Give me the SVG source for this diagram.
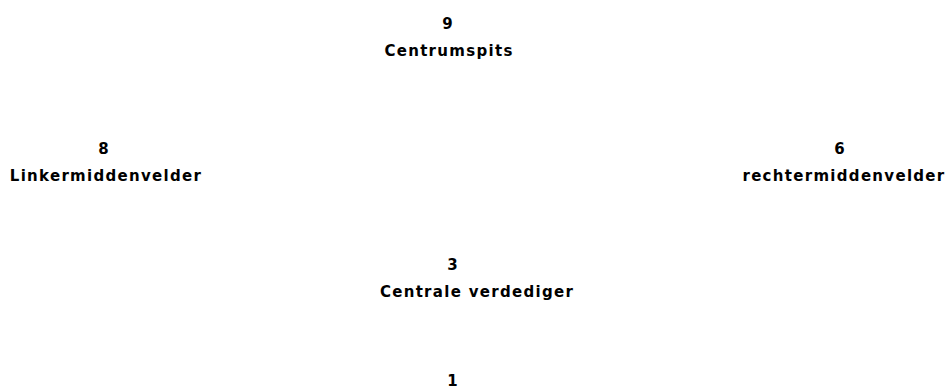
<svg xmlns="http://www.w3.org/2000/svg" width="950" height="390" viewBox="0 0 950 390">
<style>
text{font-family:"Comic Sans MS","DejaVu Sans",sans-serif;font-weight:bold;font-size:15px;fill:#000;text-anchor:middle;letter-spacing:1.3px}
</style>
<rect width="950" height="390" fill="#fff"/>
<g id="connectors"/>
<g id="node-9"><text x="448" y="29">9</text><text x="449" y="56">Centrumspits</text></g>
<g id="node-8"><text x="104" y="154">8</text><text x="106" y="181">Linkermiddenvelder</text></g>
<g id="node-6"><text x="840" y="154">6</text><text x="844" y="181">rechtermiddenvelder</text></g>
<g id="node-3"><text x="453" y="270">3</text><text x="477" y="297">Centrale verdediger</text></g>
<g id="node-1"><text x="453" y="386">1</text></g>
</svg>
